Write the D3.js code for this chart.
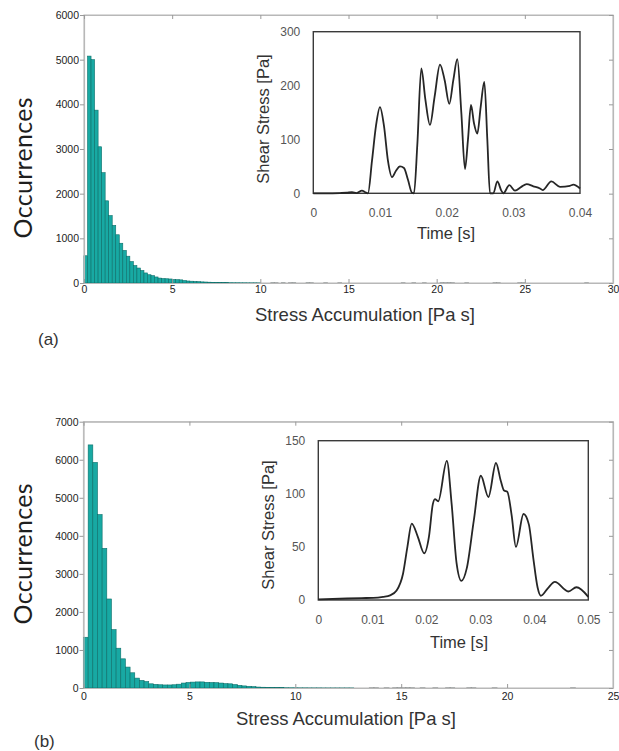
<!DOCTYPE html>
<html>
<head>
<meta charset="utf-8">
<script src="https://cdn.jsdelivr.net/npm/d3@7"></script>
<style>
  body { margin: 0; background: #fff; }
  svg { display: block; }
  .tick text { font-family: "Liberation Sans", Arial, sans-serif; }
</style>
</head>
<body>
<svg id="chart" width="619" height="751"></svg>
<script>
// ---- panel (a) histogram: counts per 0.2 bin from 0 to 10 ----
var binWidthA = 0.2;
var countsA = [610, 5080, 5000, 3870, 3050, 2470, 1840, 1510, 1290, 1080,
               890, 730, 600, 480, 390, 335, 280, 225, 185, 165,
               135, 110, 100, 95, 90, 80, 75, 70, 55, 45,
               40, 35, 30, 25, 22, 18, 15, 12, 10, 9,
               7, 6, 5, 5, 4, 4, 3, 3, 3, 2];
// sparse tail beyond 10 (bin start, count)
var tailStartA = [10.6, 10.8, 11.2, 11.6, 11.8, 12.6, 12.8, 13.6, 14.4, 18.0,
                  18.6, 19.2, 20.2, 20.4, 20.6, 20.8, 21.6, 23.2, 23.4, 24.6, 24.8, 28.4];
var tailCountA = [2, 1, 2, 1, 2, 2, 1, 1, 1, 1, 1, 1, 2, 1, 2, 1, 1, 1, 1, 1, 1, 1];
var xTicksA = [0, 5, 10, 15, 20, 25, 30];
var yTicksA = [0, 1000, 2000, 3000, 4000, 5000, 6000];

// ---- panel (a) inset: shear stress vs time ----
var timeA = [0, 0.002, 0.004, 0.005, 0.0058, 0.0065, 0.0073, 0.0078, 0.0082, 0.0088,
             0.0094, 0.01, 0.0106, 0.0112, 0.0118, 0.0124, 0.013, 0.0136, 0.0142, 0.0148,
             0.0151, 0.0156, 0.0162, 0.0168, 0.0175, 0.0182, 0.019, 0.0197, 0.0204, 0.021,
             0.0216, 0.0222, 0.02275, 0.0232, 0.02365, 0.0241, 0.0246, 0.0251, 0.02565, 0.0261,
             0.0265, 0.027, 0.0276, 0.0282, 0.0285, 0.0294, 0.03025, 0.0312, 0.032, 0.033,
             0.034, 0.0344, 0.0357, 0.037, 0.0385, 0.039, 0.04];
var stressA = [0, 0, 0.5, 1, 2, 0.5, 5, 2, 0, 60,
               125, 160, 125, 60, 30, 42, 50, 47, 25, 1,
               0, 90, 232, 175, 127, 180, 239, 210, 166, 210,
               249, 150, 45, 100, 164, 130, 111, 160, 207, 100,
               0, 0, 22, 5, 0, 15, 5, 12, 17, 13,
               9, 6, 22, 12, 14, 16, 9];
var insetXTicksA = [0, 0.01, 0.02, 0.03, 0.04];
var insetYTicksA = [0, 100, 200, 300];

// ---- panel (b) histogram: counts per 0.22 bin ----
var binWidthB = 0.22;
var countsB = [1334, 6390, 5930, 4560, 3670, 2340, 1535, 1046, 767, 550,
               400, 260, 200, 170, 110, 95, 85, 80, 80, 85,
               100, 130, 145, 155, 160, 160, 150, 145, 140, 130,
               115, 110, 90, 70, 55, 45, 35, 25, 20, 15,
               12, 10, 8, 6, 5, 4, 3, 3, 2, 2,
               2, 1, 1, 1, 1, 1, 1, 1];
var tailStartB = [13.5, 13.7, 14.2, 14.6, 14.8, 15.0, 15.2, 15.4, 15.9, 16.5,
                  17.1, 17.3, 18.1, 18.3, 19.3, 23.0];
var tailCountB = [1, 1, 1, 1, 2, 1, 2, 1, 1, 1, 1, 1, 1, 1, 1, 1];
var xTicksB = [0, 5, 10, 15, 20, 25];
var yTicksB = [0, 1000, 2000, 3000, 4000, 5000, 6000, 7000];

// ---- panel (b) inset ----
var timeB = [0, 0.004, 0.008, 0.0102, 0.012, 0.0133, 0.0145, 0.0157, 0.0165, 0.0173,
             0.0184, 0.0196, 0.0205, 0.0212, 0.0216, 0.0222, 0.0238, 0.0247, 0.0256, 0.0265,
             0.0275, 0.0288, 0.0301, 0.0315, 0.0329, 0.0338, 0.0344, 0.035, 0.0358, 0.0366,
             0.038, 0.039, 0.0398, 0.0406, 0.0412, 0.0425, 0.0438, 0.0463, 0.0478, 0.05];
var stressB = [0.6, 1.2, 1.8, 2, 3, 4.4, 9, 25, 50, 72,
               60, 44, 60, 90, 95, 93, 131, 90, 35, 18,
               30, 75, 117, 97, 129, 112, 103, 102, 80, 50,
               81, 71, 40, 12, 4, 11, 17, 8, 12, 3];
var insetXTicksB = [0, 0.01, 0.02, 0.03, 0.04, 0.05];
var insetYTicksB = [0, 50, 100, 150];

var svg = d3.select("#chart");

function buildBins(counts, w, tailStart, tailCount) {
	var bins = counts.map(function(c, i) { return { x0: i * w, x1: (i + 1) * w, n: c }; });
	// Tail bins are so small they only show as grey dashes on the axis:
	tailStart.forEach(function(s, i) {
		bins.push({ x0: s, x1: s + w, n: tailCount[i], tail: true });
	});
	return bins;
}

function drawPanel(p) {

	var g = svg.append("g");
	var x = d3.scaleLinear().domain(p.xDomain).range([p.left, p.right]);
	var y = d3.scaleLinear().domain(p.yDomain).range([p.bottom, p.top]);

	// Light frame of the main plot:
	g.append("rect")
		.attr("x", p.left).attr("y", p.top)
		.attr("width", p.right - p.left).attr("height", p.bottom - p.top)
		.attr("fill", "none").attr("stroke", "#c4c4c4").attr("stroke-width", 1.2);

	// Histogram bars:
	g.selectAll("rect.bar")
		.data(p.bins)
		.enter().append("rect")
		.attr("class", "bar")
		.attr("x", function(d) { return x(d.x0); })
		.attr("y", function(d) { return y(d.n); })
		.attr("width", function(d) { return x(d.x1) - x(d.x0); })
		.attr("height", function(d) { return y(0) - y(d.n); })
		.attr("fill", "#18a9a3")
		.attr("stroke", function(d) { return d.tail ? "#8c8c8c" : "#0c6f6a"; })
		.attr("stroke-width", function(d) { return d.tail ? 1 : 0.6; });

	// Axes, ticks inward except on the left:
	var axes = [
		g.append("g").attr("transform", "translate(" + p.left + ",0)")
			.call(d3.axisLeft(y).tickValues(p.yTicks).tickFormat(d3.format("d"))
				.tickSizeInner(4).tickSizeOuter(0).tickPadding(1)),
		g.append("g").attr("transform", "translate(0," + p.bottom + ")")
			.call(d3.axisBottom(x).tickValues(p.xTicks).tickFormat(d3.format("d"))
				.tickSizeInner(-4).tickSizeOuter(0).tickPadding(p.xPad)),
		g.append("g").attr("transform", "translate(0," + p.top + ")")
			.call(d3.axisTop(x).tickValues(p.xTicks).tickSizeInner(-4).tickSizeOuter(0).tickFormat("")),
		g.append("g").attr("transform", "translate(" + p.right + ",0)")
			.call(d3.axisRight(y).tickValues(p.yTicks).tickSizeInner(-4).tickSizeOuter(0).tickFormat(""))
	];
	axes.forEach(function(a) {
		a.select(".domain").attr("stroke", "#b8b8b8").attr("stroke-width", 1.2);
		a.selectAll(".tick line").attr("stroke", "#9a9a9a");
		a.selectAll(".tick text").attr("fill", "#222").style("font-size", "10.5px");
	});

	// Axis titles:
	g.append("text")
		.text("Occurrences")
		.attr("transform", "translate(" + p.occX + "," + p.occY + ") rotate(-90)")
		.attr("dy", "0.35em")
		.attr("text-anchor", "middle")
		.attr("textLength", 141)
		.style("font-family", "Lato, 'Open Sans', sans-serif")
		.style("font-size", "25px")
		.attr("fill", "#1e1e1e");

	g.append("text")
		.text("Stress Accumulation [Pa s]")
		.attr("x", p.titleX).attr("y", p.titleY)
		.attr("text-anchor", "middle")
		.style("font-family", "'Liberation Sans', Arial, sans-serif")
		.style("font-size", "18.5px")
		.attr("fill", "#333");

	g.append("text")
		.text(p.label)
		.attr("x", p.labelX).attr("y", p.labelY)
		.style("font-family", "'Liberation Sans', Arial, sans-serif")
		.style("font-size", "17px")
		.attr("fill", "#333");

	// The inset plot:
	var ins = p.inset;
	var ix = d3.scaleLinear().domain(ins.xDomain).range([ins.left, ins.right]);
	var iy = d3.scaleLinear().domain(ins.yDomain).range([ins.bottom, ins.top]);

	g.append("rect")
		.attr("x", ins.left).attr("y", ins.top)
		.attr("width", ins.right - ins.left).attr("height", ins.bottom - ins.top)
		.attr("fill", "#fff").attr("stroke", "#3a3a3a").attr("stroke-width", 1.4);

	var line = d3.line()
		.x(function(d) { return ix(d[0]); })
		.y(function(d) { return iy(d[1]); })
		.curve(d3.curveMonotoneX);

	g.append("path")
		.datum(d3.zip(ins.time, ins.stress))
		.attr("d", line)
		.attr("fill", "none")
		.attr("stroke", "#262626")
		.attr("stroke-width", 1.8);

	var fmt = function(d) { return d === 0 ? "0" : d3.format(".2f")(d); };
	var insAxes = [
		g.append("g").attr("transform", "translate(" + ins.left + ",0)")
			.call(d3.axisLeft(iy).tickValues(ins.yTicks).tickSize(0).tickPadding(13)),
		g.append("g").attr("transform", "translate(0," + ins.bottom + ")")
			.call(d3.axisBottom(ix).tickValues(ins.xTicks).tickSize(0).tickPadding(15).tickFormat(fmt))
	];
	insAxes.forEach(function(a) {
		a.select(".domain").remove();
		a.selectAll(".tick text").attr("fill", "#555").style("font-size", "12px");
	});

	g.append("text")
		.text("Time [s]")
		.attr("x", ins.timeX).attr("y", ins.timeY)
		.attr("text-anchor", "middle")
		.style("font-family", "'Liberation Sans', Arial, sans-serif")
		.style("font-size", "16.5px")
		.attr("fill", "#333");

	g.append("text")
		.text("Shear Stress [Pa]")
		.attr("transform", "translate(" + ins.shearX + "," + ins.shearY + ") rotate(-90)")
		.attr("dy", "0.35em")
		.attr("text-anchor", "middle")
		.style("font-family", "'Liberation Sans', Arial, sans-serif")
		.style("font-size", "16.5px")
		.attr("fill", "#333");
}

drawPanel({
	bins: buildBins(countsA, binWidthA, tailStartA, tailCountA),
	xDomain: [0, 30], yDomain: [0, 6000], xTicks: xTicksA, yTicks: yTicksA,
	left: 84, right: 613, top: 15, bottom: 283, xPad: 3,
	occX: 23, occY: 168, titleX: 365, titleY: 320.5,
	label: "(a)", labelX: 38, labelY: 344.5,
	inset: {
		time: timeA, stress: stressA, xTicks: insetXTicksA, yTicks: insetYTicksA,
		xDomain: [0, 0.04], yDomain: [0, 300],
		left: 313.3, right: 580, top: 31.7, bottom: 193.3,
		timeX: 446, timeY: 239, shearX: 263.5, shearY: 119
	}
});

drawPanel({
	bins: buildBins(countsB, binWidthB, tailStartB, tailCountB),
	xDomain: [0, 25], yDomain: [0, 7000], xTicks: xTicksB, yTicks: yTicksB,
	left: 83.5, right: 613, top: 421.7, bottom: 688, xPad: 5,
	occX: 23, occY: 554, titleX: 346, titleY: 725,
	label: "(b)", labelX: 34, labelY: 747,
	inset: {
		time: timeB, stress: stressB, xTicks: insetXTicksB, yTicks: insetYTicksB,
		xDomain: [0, 0.05], yDomain: [0, 150],
		left: 318.3, right: 588.3, top: 440.7, bottom: 600,
		timeX: 459, timeY: 647.5, shearX: 268.7, shearY: 525
	}
});
</script>
</body>
</html>
